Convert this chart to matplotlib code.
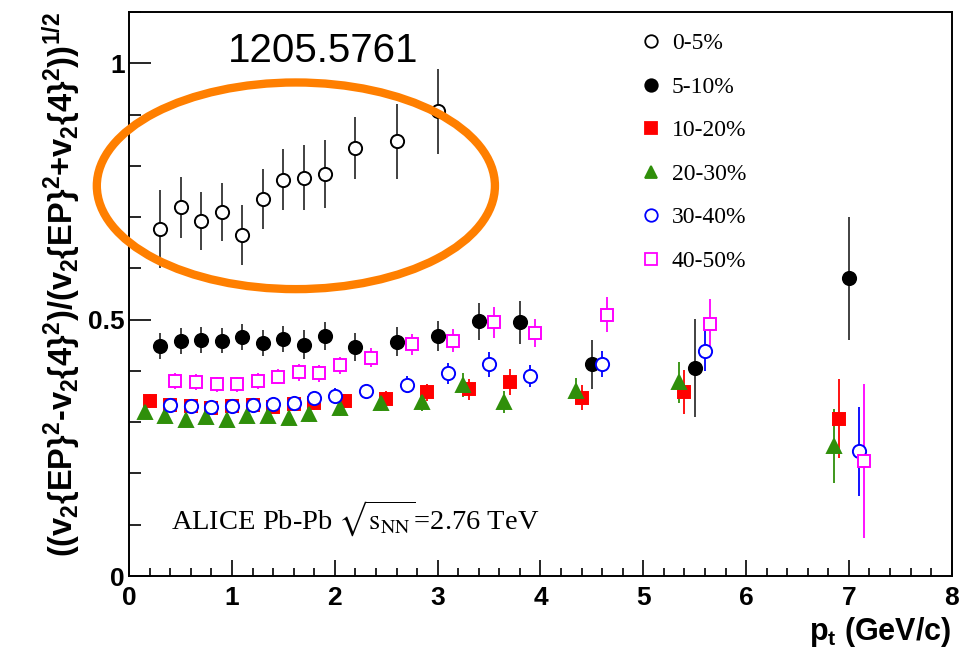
import matplotlib
matplotlib.use('Agg')
import matplotlib.pyplot as plt
from matplotlib.lines import Line2D
from matplotlib.patches import Ellipse

# === v2 fluctuation ratio vs pt, per centrality class ===
pt_05 = [0.3, 0.5, 0.7, 0.9, 1.1, 1.3, 1.5, 1.7, 1.9, 2.2, 2.6, 3.0]
r_05 = [0.677, 0.719, 0.692, 0.710, 0.665, 0.735, 0.773, 0.777, 0.784, 0.835, 0.848, 0.906]
e_05 = [0.076, 0.059, 0.057, 0.056, 0.059, 0.058, 0.060, 0.063, 0.067, 0.060, 0.073, 0.083]

pt_510 = [0.3, 0.5, 0.7, 0.9, 1.1, 1.3, 1.5, 1.7, 1.9, 2.2, 2.6, 3.0, 3.4, 3.8, 4.5, 5.5, 7.0]
r_510 = [0.449, 0.458, 0.460, 0.459, 0.466, 0.455, 0.462, 0.451, 0.468, 0.446, 0.457, 0.468,
         0.497, 0.495, 0.413, 0.406, 0.581]
e_510 = [0.025, 0.025, 0.025, 0.025, 0.025, 0.025, 0.026, 0.028, 0.027, 0.027, 0.028, 0.030,
         0.036, 0.042, 0.048, 0.096, 0.120]

pt_1020 = [0.2, 0.4, 0.6, 0.8, 1.0, 1.2, 1.4, 1.6, 1.8, 2.1, 2.5, 2.9, 3.3, 3.7, 4.4, 5.4, 6.9]
r_1020 = [0.341, 0.333, 0.331, 0.328, 0.331, 0.333, 0.330, 0.335, 0.337, 0.341, 0.346, 0.358,
          0.364, 0.378, 0.348, 0.358, 0.307]
e_1020 = [0.013, 0.012, 0.012, 0.012, 0.012, 0.012, 0.012, 0.013, 0.013, 0.014, 0.015, 0.017,
          0.020, 0.025, 0.025, 0.043, 0.077]

pt_2030 = [0.15, 0.35, 0.55, 0.75, 0.95, 1.15, 1.35, 1.55, 1.75, 2.05, 2.45, 2.85, 3.25, 3.65,
           4.35, 5.35, 6.85]
r_2030 = [0.320, 0.312, 0.305, 0.311, 0.305, 0.312, 0.313, 0.309, 0.315, 0.328, 0.338, 0.339,
          0.372, 0.339, 0.361, 0.378, 0.253]
e_2030 = [0.014, 0.013, 0.013, 0.013, 0.013, 0.013, 0.013, 0.014, 0.014, 0.015, 0.016, 0.018,
          0.023, 0.022, 0.025, 0.040, 0.072]

pt_3040 = [0.4, 0.6, 0.8, 1.0, 1.2, 1.4, 1.6, 1.8, 2.0, 2.3, 2.7, 3.1, 3.5, 3.9, 4.6, 5.6, 7.1]
r_3040 = [0.333, 0.331, 0.329, 0.332, 0.333, 0.335, 0.337, 0.347, 0.352, 0.360, 0.373, 0.395,
          0.413, 0.390, 0.414, 0.439, 0.243]
e_3040 = [0.012, 0.012, 0.012, 0.012, 0.012, 0.012, 0.013, 0.013, 0.014, 0.015, 0.017, 0.020,
          0.024, 0.022, 0.025, 0.040, 0.087]

pt_4050 = [0.45, 0.65, 0.85, 1.05, 1.25, 1.45, 1.65, 1.85, 2.05, 2.35, 2.75, 3.15, 3.55, 3.95,
           4.65, 5.65, 7.15]
r_4050 = [0.380, 0.378, 0.374, 0.374, 0.380, 0.389, 0.397, 0.395, 0.411, 0.426, 0.452, 0.459,
          0.495, 0.474, 0.510, 0.491, 0.224]
e_4050 = [0.015, 0.015, 0.015, 0.015, 0.015, 0.015, 0.016, 0.016, 0.017, 0.018, 0.020, 0.022,
          0.030, 0.028, 0.034, 0.050, 0.150]

labels = ['0-5%', '5-10%', '10-20%', '20-30%', '30-40%', '40-50%']

GREEN = '#2f8f0a'

# (marker, face, edge) per class
styles = [
    ('o', 'white', 'black'),
    ('o', 'black', 'black'),
    ('s', 'red', 'red'),
    ('^', GREEN, GREEN),
    ('o', 'white', 'blue'),
    ('s', 'white', '#ff00ff'),
]

plt.rcParams['mathtext.fontset'] = 'custom'
plt.rcParams['mathtext.rm'] = 'Liberation Sans:bold'
plt.rcParams['mathtext.it'] = 'Liberation Sans:bold'
plt.rcParams['mathtext.bf'] = 'Liberation Sans:bold'

fig = plt.figure(figsize=(9.6, 6.58), dpi=100)
ax = fig.add_axes([0.1346, 0.1246, 0.8568, 0.8572])

series = [(pt_05, r_05, e_05), (pt_510, r_510, e_510), (pt_1020, r_1020, e_1020),
          (pt_2030, r_2030, e_2030), (pt_3040, r_3040, e_3040), (pt_4050, r_4050, e_4050)]

handles = []
for (x, y, e), (m, fc, ec), lab in zip(series, styles, labels):
    ms = 8.5 if m == 's' else 9.5
    ecol = '#333333' if ec == 'black' else ec
    ax.errorbar(x, y, yerr=e, fmt=m, ms=ms, mfc=fc, mec=ec, mew=1.4,
                ecolor=ecol, elinewidth=1.3, capsize=0, zorder=3)
    handles.append(Line2D([], [], ls='none', marker=m, ms=ms - 0.5, mfc=fc, mec=ec, mew=1.3,
                          label=lab))

ax.set_xlim(0, 8)
ax.set_ylim(0, 1.1)
ax.set_xticks([0, 1, 2, 3, 4, 5, 6, 7, 8])
ax.set_xticks([i * 0.2 for i in range(41)], minor=True)
ax.set_yticks([0, 0.5, 1])
ax.set_yticklabels(['0', '0.5', '1'])
ax.set_yticks([i * 0.1 for i in range(12)], minor=True)

ax.tick_params(which='both', direction='in', top=False, right=False, width=1.2)
ax.tick_params(axis='y', which='major', length=16, pad=3)
ax.tick_params(axis='y', which='minor', length=8.5)
ax.tick_params(axis='x', which='major', length=11.5, pad=7)
ax.tick_params(axis='x', which='minor', length=5.8)
for lbl in ax.get_xticklabels() + ax.get_yticklabels():
    lbl.set_fontfamily('Liberation Sans')
    lbl.set_fontweight('bold')
    lbl.set_fontsize(19)
for sp in ax.spines.values():
    sp.set_linewidth(1.4)

ax.set_xlabel(r'$p_{t}$ (GeV/c)', loc='right', fontsize=22, fontweight='bold',
              fontfamily='Liberation Sans', labelpad=4)
ax.set_ylabel(r'$((v_{2}\{EP\}^{2}$-$v_{2}\{4\}^{2})/(v_{2}\{EP\}^{2}$+$v_{2}\{4\}^{2}))^{1/2}$',
              loc='top', fontsize=23.5, fontweight='bold', fontfamily='Liberation Sans',
              labelpad=4)

leg = ax.legend(handles=handles, loc='upper left', bbox_to_anchor=(0.668, 0.950),
                bbox_transform=fig.transFigure, frameon=False, borderpad=0, borderaxespad=0,
                handlelength=0.8, handletextpad=0.5, labelspacing=0.93,
                prop={'family': 'Liberation Serif', 'size': 17})

fig.text(0.1778, 0.1956, r'ALICE Pb-Pb $\sqrt{\mathrm{s}_{\mathrm{NN}}}$=2.76 TeV',
         fontsize=20.5, fontfamily='Liberation Serif', math_fontfamily='stix',
         ha='left', va='baseline')

fig.text(0.3365, 0.9062, '1205.5761', fontsize=29, fontfamily='Liberation Sans',
         ha='center', va='baseline')

# orange highlight around the 0-5% points
ax.add_patch(Ellipse((1.621, 0.761), 3.872, 0.403, fill=False, ec='#ff7f00', lw=6,
                     clip_on=False, zorder=5))

fig.savefig('out.png', dpi=100)
